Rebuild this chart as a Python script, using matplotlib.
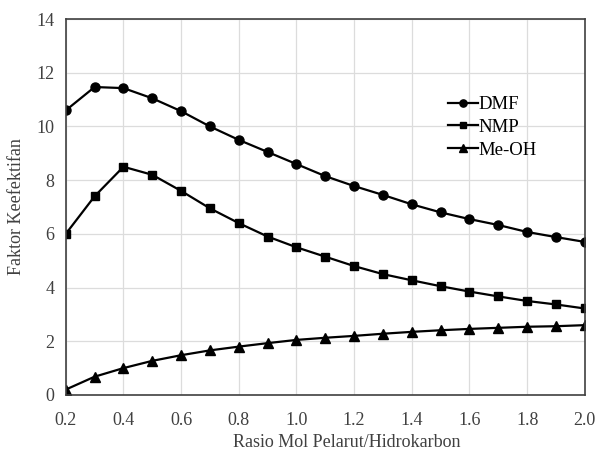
import matplotlib
matplotlib.use("Agg")
import matplotlib.pyplot as plt

x = [0.2, 0.3, 0.4, 0.5, 0.6, 0.7, 0.8, 0.9, 1.0, 1.1, 1.2, 1.3, 1.4, 1.5, 1.6, 1.7, 1.8, 1.9, 2.0]
dmf = [10.6, 11.47, 11.43, 11.05, 10.57, 10.0, 9.5, 9.05, 8.6, 8.15, 7.78, 7.45, 7.1, 6.8, 6.55, 6.33, 6.07, 5.88, 5.7]
nmp = [6.0, 7.4, 8.5, 8.2, 7.6, 6.95, 6.4, 5.9, 5.5, 5.15, 4.8, 4.5, 4.27, 4.05, 3.85, 3.67, 3.5, 3.37, 3.22]
meoh = [0.2, 0.68, 1.0, 1.27, 1.48, 1.66, 1.8, 1.93, 2.05, 2.13, 2.2, 2.28, 2.35, 2.41, 2.46, 2.5, 2.54, 2.56, 2.6]
xticks = [0.2, 0.4, 0.6, 0.8, 1.0, 1.2, 1.4, 1.6, 1.8, 2.0]
yticks = [0, 2, 4, 6, 8, 10, 12, 14]

plt.rcParams['font.family'] = ['Liberation Serif', 'DejaVu Serif']

fig = plt.figure(figsize=(5.98, 4.55), dpi=100)
ax = fig.add_axes([0.110, 0.132, 0.868, 0.826])

ax.plot(x, dmf, color='black', lw=1.6, marker='o', ms=6.5, label='DMF')
ax.plot(x, nmp, color='black', lw=1.6, marker='s', ms=6, label='NMP')
ax.plot(x, meoh, color='black', lw=1.6, marker='^', ms=6.5, label='Me-OH')

ax.set_xlim(0.2, 2.0)
ax.set_ylim(0, 14)
ax.set_xticks(xticks)
ax.set_xticklabels([f"{v:.1f}" for v in xticks])
ax.set_yticks(yticks)
ax.grid(True, color='#dcdcdc', lw=0.9)
ax.set_axisbelow(True)
ax.tick_params(axis='x', length=0, labelsize=13, colors='#404040', pad=12)
ax.tick_params(axis='y', length=0, labelsize=13, colors='#404040', pad=8)
for s in ax.spines.values():
    s.set_color('#404040')
    s.set_linewidth(1.2)

ax.set_xlabel('Rasio Mol Pelarut/Hidrokarbon', fontsize=13, color='#404040')
ax.xaxis.set_label_coords(0.541, -0.104)
ax.set_ylabel('Faktor Keefektifan', fontsize=13, color='#404040')
ax.yaxis.set_label_coords(-0.079, 0.5)

leg = ax.legend(loc='upper left', bbox_to_anchor=(0.718, 0.82), frameon=False, fontsize=13.5,
                handlelength=1.6, handletextpad=0.05, labelspacing=0.3, borderpad=0, markerscale=0.8)

fig.savefig('out.png', dpi=100)
